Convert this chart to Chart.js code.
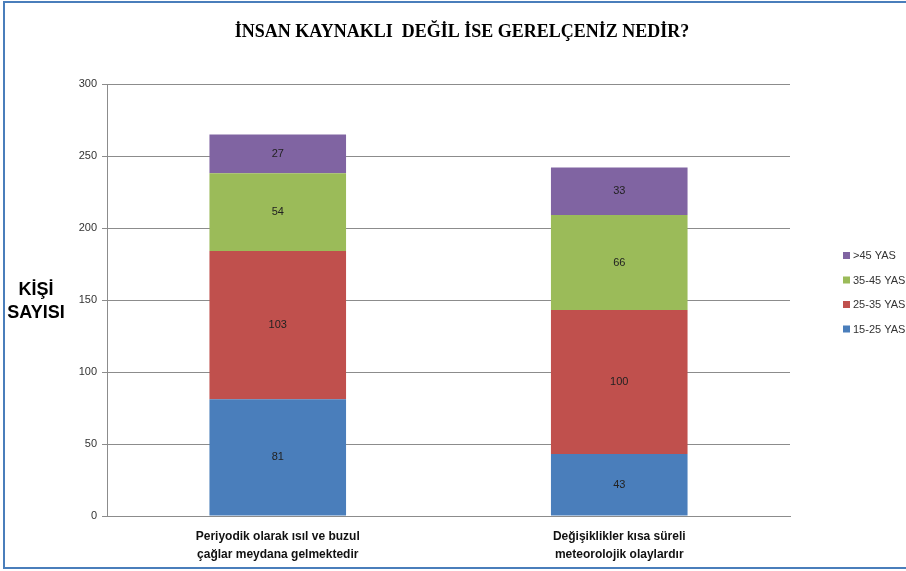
<!DOCTYPE html>
<html>
<head>
<meta charset="utf-8">
<script src="https://cdn.jsdelivr.net/npm/chart.js@4"></script>
<style>
  html, body { margin: 0; padding: 0; background: #fff; overflow: hidden; }
  #frame { position: absolute; left: 3px; top: 1px; width: 940px; height: 564px; border: 2px solid #4a7ebb; }
  #myChart { position: absolute; left: 0; top: 0; }
</style>
</head>
<body>
<div id="frame"></div>
<canvas id="myChart" width="906" height="571"></canvas>
<script>
// categories and values
const categories = [
  ["Periyodik olarak ısıl ve buzul", "çağlar meydana gelmektedir"],
  ["Değişiklikler kısa süreli", "meteorolojik olaylardır"],
];
const age1525 = [81, 43];
const age2535 = [103, 100];
const age3545 = [54, 66];
const age45 = [27, 33];
const seriesNames = ["15-25 YAS", "25-35 YAS", "35-45 YAS", ">45 YAS"];
const seriesColors = ["#4a7ebb", "#c0504d", "#9bbb59", "#8064a2"];
const yTicks = [0, 50, 100, 150, 200, 250, 300];

const chartTitle = "İNSAN KAYNAKLI  DEĞİL İSE GERELÇENİZ NEDİR?";
const yTitle = ["KİŞİ", "SAYISI"];

const sansFont = "'Liberation Sans', Arial, sans-serif";

// draws title, y axis title, value labels and the legend
const extrasPlugin = {
  id: "extras",
  afterDraw(chart) {
    const ctx = chart.ctx;
    ctx.save();

    // title
    ctx.fillStyle = "#000";
    ctx.font = "bold 18px 'Liberation Serif', 'Times New Roman', serif";
    ctx.textAlign = "center";
    ctx.textBaseline = "middle";
    ctx.fillText(chartTitle, 462, 32);

    // y axis title
    ctx.font = "bold 18px " + sansFont;
    ctx.fillText(yTitle[0], 36, 290);
    ctx.fillText(yTitle[1], 36, 313);

    // value labels in the middle of every segment
    ctx.font = "11px " + sansFont;
    ctx.fillStyle = "#222";
    chart.data.datasets.forEach((ds, i) => {
      const meta = chart.getDatasetMeta(i);
      meta.data.forEach((bar, j) => {
        const mid = (bar.y + bar.base) / 2;
        ctx.fillText(ds.data[j], bar.x, mid);
      });
    });

    // legend, top item is the last series
    ctx.font = "11px " + sansFont;
    ctx.textAlign = "left";
    for (let k = 0; k < seriesNames.length; k++) {
      const idx = seriesNames.length - 1 - k;
      const y = 256 + k * 24.5;
      ctx.fillStyle = seriesColors[idx];
      ctx.fillRect(843, y - 4, 7, 7);
      ctx.fillStyle = "#333";
      ctx.fillText(seriesNames[idx], 853, y);
    }

    ctx.restore();
  },
};

const datasetValues = [age1525, age2535, age3545, age45];

const data = {
  labels: categories,
  datasets: datasetValues.map((vals, i) => ({
    label: seriesNames[i],
    data: vals,
    backgroundColor: seriesColors[i],
    borderWidth: 0,
    barPercentage: 0.4,
    categoryPercentage: 1,
  })),
};

const config = {
  type: "bar",
  data: data,
  plugins: [extrasPlugin],
  options: {
    responsive: false,
    animation: false,
    layout: {
      padding: { left: 0, top: 84, right: 116, bottom: 0 },
    },
    plugins: {
      legend: { display: false },
      title: { display: false },
      tooltip: { enabled: false },
    },
    scales: {
      x: {
        stacked: true,
        grid: { display: false },
        border: { display: true, color: "#8c8c8c", width: 1 },
        ticks: {
          color: "#111",
          font: { family: sansFont, size: 12, weight: "bold", lineHeight: 1.5 },
          padding: 4,
          maxRotation: 0,
          autoSkip: false,
        },
        afterFit(scale) {
          scale.height = 55;
        },
      },
      y: {
        stacked: true,
        min: 0,
        max: 300,
        afterBuildTicks(scale) {
          scale.ticks = yTicks.map((v) => ({ value: v }));
        },
        grid: { color: "#8c8c8c", tickLength: 5 },
        border: { display: true, color: "#8c8c8c", width: 1 },
        ticks: {
          color: "#333",
          font: { family: sansFont, size: 11 },
          padding: 5,
        },
        afterFit(scale) {
          scale.width = 107;
        },
      },
    },
  },
};

const myChart = new Chart(document.getElementById("myChart"), config);
</script>
</body>
</html>
